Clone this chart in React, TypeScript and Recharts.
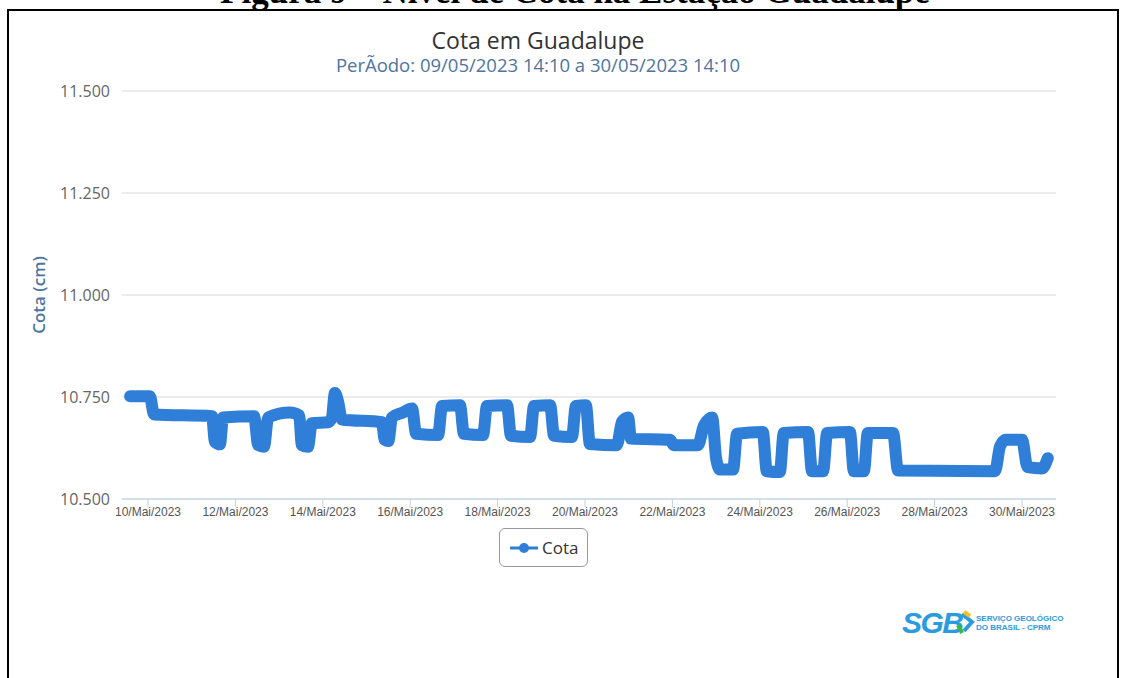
import React from "react";
import { LineChart, Line, XAxis, YAxis, CartesianGrid } from "recharts";

// leituras (dia/mês hora) e cota correspondente
const horarios = [
    "09/05 14:10", "10/05 01:00", "10/05 03:20", "11/05 11:10", "11/05 12:45", "11/05 15:30",
    "11/05 17:15", "12/05 10:15", "12/05 12:30", "12/05 15:40", "12/05 18:00", "13/05 06:00",
    "13/05 11:00", "13/05 12:30", "13/05 15:50", "13/05 18:00", "14/05 02:50", "14/05 05:00",
    "14/05 06:40", "14/05 08:20", "14/05 10:30", "15/05 08:30", "15/05 10:00", "15/05 12:00",
    "15/05 14:00", "15/05 20:00", "16/05 01:00", "16/05 03:15", "16/05 15:20", "16/05 17:30",
    "17/05 03:20", "17/05 05:30", "17/05 16:00", "17/05 18:10", "18/05 05:10", "18/05 07:20",
    "18/05 17:50", "18/05 20:00", "19/05 04:50", "19/05 07:00", "19/05 16:50", "19/05 19:00",
    "20/05 00:30", "20/05 02:40", "20/05 17:30", "20/05 20:20", "20/05 23:40", "21/05 01:15",
    "21/05 22:40", "22/05 00:50", "22/05 14:00", "22/05 17:20", "22/05 21:50", "23/05 00:00",
    "23/05 02:10", "23/05 09:20", "23/05 11:30", "24/05 01:40", "24/05 03:50", "24/05 11:00",
    "24/05 13:10", "25/05 02:30", "25/05 04:40", "25/05 10:45", "25/05 13:00", "26/05 01:30",
    "26/05 03:40", "26/05 09:10", "26/05 11:20", "27/05 01:10", "27/05 03:55", "29/05 09:10",
    "29/05 12:00", "29/05 15:10", "30/05 00:00", "30/05 03:00", "30/05 11:00", "30/05 14:10",
];

const cota = [
    10.752, 10.752, 10.707, 10.703, 10.64, 10.634,
    10.7, 10.703, 10.632, 10.628, 10.7, 10.712,
    10.705, 10.632, 10.628, 10.686, 10.688, 10.7,
    10.76, 10.74, 10.695, 10.688, 10.645, 10.642,
    10.7, 10.712, 10.722, 10.66, 10.657, 10.728,
    10.73, 10.66, 10.657, 10.728, 10.73, 10.655,
    10.652, 10.728, 10.73, 10.655, 10.652, 10.728,
    10.73, 10.635, 10.632, 10.69, 10.7, 10.648,
    10.645, 10.632, 10.632, 10.68, 10.7, 10.6,
    10.572, 10.572, 10.66, 10.664, 10.568, 10.566,
    10.662, 10.664, 10.568, 10.568, 10.662, 10.664,
    10.568, 10.568, 10.662, 10.662, 10.57, 10.568,
    10.63, 10.645, 10.645, 10.578, 10.575, 10.6,
];

const ticksX = [0, 2, 4, 6, 8, 10, 12, 14, 16, 18, 20];
const ticksY = [10.5, 10.75, 11, 11.25, 11.5];

const AZUL = "#2f7ed8";

// dias a partir de 10/05 00:00
function paraDias(h: string) {
    const [data, hora] = h.split(" ");
    const dia = Number(data.split("/")[0]);
    const [hh, mm] = hora.split(":").map(Number);
    return dia - 10 + hh / 24 + mm / 1440;
}

const data = horarios.map((h, i) => ({ t: paraDias(h), cota: cota[i] }));

const formatarData = (t: number) =>
    `${String(10 + Math.round(t)).padStart(2, "0")}/Mai/2023`;

export default function App() {
    return (
        <div
            style={{
                position: "fixed",
                left: 0,
                top: 0,
                width: 1128,
                height: 678,
                overflow: "hidden",
                background: "#fff",
            }}
        >
            {/* legenda da figura, cortada no topo */}
            <div
                style={{
                    position: "absolute",
                    left: 0,
                    width: 1150,
                    top: -26,
                    textAlign: "center",
                    fontFamily: "'Liberation Serif', serif",
                    fontWeight: "bold",
                    fontSize: 35,
                    lineHeight: "35px",
                    whiteSpace: "nowrap",
                }}
            >
                Figura 9 – Nível de Cota na Estação Guadalupe
            </div>
            <div
                style={{
                    position: "absolute",
                    left: 7,
                    top: 9,
                    width: 1112,
                    height: 700,
                    border: "2px solid #000",
                    boxSizing: "border-box",
                    background: "#fff",
                }}
            />
            <div
                style={{
                    position: "absolute",
                    left: 0,
                    width: 1076,
                    top: 29,
                    textAlign: "center",
                    fontFamily: "'Open Sans', sans-serif",
                    fontSize: 23,
                    color: "#333",
                    lineHeight: "22px",
                }}
            >
                Cota em Guadalupe
            </div>
            <div
                style={{
                    position: "absolute",
                    left: 0,
                    width: 1076,
                    top: 56,
                    textAlign: "center",
                    fontFamily: "'Open Sans', sans-serif",
                    fontSize: 18.5,
                    color: "#4d759e",
                    lineHeight: "18px",
                }}
            >
                PerÃodo: 09/05/2023 14:10 a 30/05/2023 14:10
            </div>
            <div
                style={{
                    position: "absolute",
                    left: 38,
                    top: 295,
                    transform: "translate(-50%, -50%) rotate(-90deg)",
                    fontFamily: "'Open Sans', sans-serif",
                    fontSize: 17,
                    fontWeight: 600,
                    color: "#4d759e",
                    whiteSpace: "nowrap",
                }}
            >
                Cota (cm)
            </div>

            <div style={{ position: "absolute", left: 0, top: 0 }}>
                <LineChart
                    width={1128}
                    height={678}
                    data={data}
                    margin={{ top: 91, right: 72, bottom: 149, left: 12 }}
                >
                    <CartesianGrid vertical={false} stroke="#d8d8d8" />
                    <XAxis
                        dataKey="t"
                        type="number"
                        domain={[-0.595, 20.778]}
                        allowDataOverflow
                        ticks={ticksX}
                        tickFormatter={formatarData}
                        height={30}
                        stroke="#c0d0e0"
                        tickSize={8}
                        tickMargin={0}
                        tick={{ fill: "#555", fontSize: 12, fontFamily: "'Liberation Sans', Arial, sans-serif" }}
                    />
                    <YAxis
                        type="number"
                        domain={[10.5, 11.5]}
                        ticks={ticksY}
                        tickFormatter={(v: number) => v.toFixed(3)}
                        width={110}
                        axisLine={false}
                        tickLine={false}
                        tickMargin={6}
                        tick={{ fill: "#666", fontSize: 16, fontFamily: "'Open Sans', sans-serif" }}
                    />
                    <Line
                        type="monotone"
                        dataKey="cota"
                        stroke={AZUL}
                        strokeWidth={12}
                        strokeLinejoin="round"
                        strokeLinecap="round"
                        dot={false}
                        isAnimationActive={false}
                    />
                </LineChart>
            </div>

            {/* legenda da série */}
            <div
                style={{
                    position: "absolute",
                    left: 499,
                    top: 528,
                    width: 89,
                    height: 39,
                    border: "1px solid #999",
                    borderRadius: 6,
                    boxSizing: "border-box",
                    display: "flex",
                    alignItems: "center",
                    paddingLeft: 10,
                    fontFamily: "'Open Sans', sans-serif",
                    fontSize: 17,
                    color: "#333",
                }}
            >
                <svg width={28} height={12} style={{ marginRight: 4 }}>
                    <line x1={0} y1={6} x2={28} y2={6} stroke={AZUL} strokeWidth={3} />
                    <circle cx={14} cy={6} r={5} fill={AZUL} />
                </svg>
                Cota
            </div>

            {/* logotipo */}
            <svg
                style={{ position: "absolute", left: 900, top: 603 }}
                width={165}
                height={36}
            >
                <text
                    x={2}
                    y={30}
                    fontFamily="'Liberation Sans', Arial, sans-serif"
                    fontWeight="bold"
                    fontStyle="italic"
                    fontSize={30}
                    fill="#2a9be0"
                    letterSpacing={-1.5}
                >
                    SGB
                </text>
                <path d="M62 11 L72 19 L64 28" stroke="#2a9be0" strokeWidth={4} fill="none" />
                <path d="M58 22 L62 30" stroke="#3cb44a" strokeWidth={4} />
                <path d="M64 9 L70 13" stroke="#f2c21b" strokeWidth={4} />
                <text
                    x={76}
                    y={18}
                    fontFamily="'Liberation Sans', Arial, sans-serif"
                    fontWeight="bold"
                    fontSize={8}
                    fill="#2a9be0"
                >
                    SERVIÇO GEOLÓGICO
                </text>
                <text
                    x={76}
                    y={27}
                    fontFamily="'Liberation Sans', Arial, sans-serif"
                    fontWeight="bold"
                    fontSize={8}
                    fill="#2a9be0"
                >
                    DO BRASIL - CPRM
                </text>
            </svg>
        </div>
    );
}
